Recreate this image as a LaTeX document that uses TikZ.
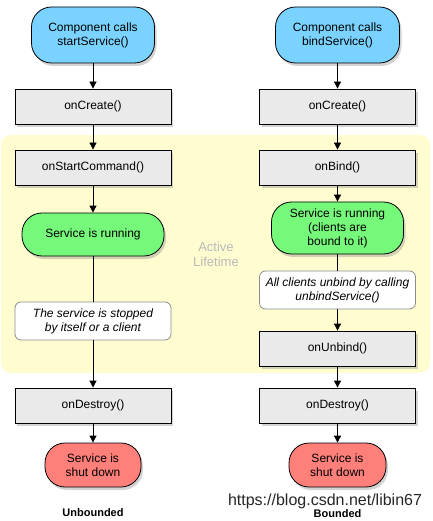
\documentclass[tikz,border=0pt]{standalone}
\usepackage{fontspec}
\setmainfont{Liberation Sans}
\usepackage{xcolor}
\usepackage{tikz}
\usetikzlibrary{arrows.meta, shadows, positioning}
\definecolor{startblue}{RGB}{122,211,255}
\definecolor{rungreen}{RGB}{118,248,122}
\definecolor{downred}{RGB}{255,128,122}
\definecolor{boxgray}{RGB}{234,234,234}
\definecolor{lifeyellow}{RGB}{255,253,208}
\definecolor{lifetext}{RGB}{185,185,185}
\tikzset{
    pillnode/.style = {draw, rectangle, rounded corners=20pt, inner sep = 0em, node distance=0em,
      drop shadow={shadow xshift=2pt, shadow yshift=-3pt, opacity=0.35}},
    boxnode/.style = {draw, rectangle, fill=boxgray, inner sep = 0em, node distance=0em,
      minimum width=156pt, minimum height=35pt,
      drop shadow={shadow xshift=2pt, shadow yshift=-3pt, opacity=0.35}},
    notenode/.style = {draw=black!45, fill=white, rectangle, rounded corners=6pt, inner sep = 0em,
      node distance=0em, minimum width=156pt, minimum height=38pt, font=\fontsize{12}{14}\selectfont\itshape},
    textnode/.style  = {draw=none, fill=none, rectangle, inner sep = 0em, node distance=0em},
    connect/.style = {black, -{Triangle[length=7pt, width=7pt]}},
    every text node part/.style={align=center}
}

\begin{document}
\begin{tikzpicture}[line width=0.8pt, font=\fontsize{12}{14}\selectfont]
    \useasboundingbox (0pt,0pt) rectangle (432pt,-521pt);

    % active lifetime area
    \fill [lifeyellow, rounded corners=10pt] (1pt,-135pt) rectangle (430pt,-373pt);
    \node [name=active, textnode, text=lifetext, font=\fontsize{13}{15}\selectfont]
        at (216pt,-254pt) {Active\\Lifetime};

    % unbounded service
    \node [name=startL, pillnode, fill=startblue, minimum width=123pt, minimum height=56pt]
        at (93pt,-35pt) {Component calls\\startService()};
    \node [name=createL, boxnode, below of = startL, yshift=-71.5pt] {onCreate()};
    \node [name=cmdL, boxnode, below of = createL, yshift=-61pt] {onStartCommand()};
    \node [name=runL, pillnode, fill=rungreen, minimum width=142pt, minimum height=43pt,
        below of = cmdL, yshift=-67pt] {Service is running};
    \node [name=noteL, notenode, below of = runL, yshift=-86.5pt] {The service is stopped\\by itself or a client};
    \node [name=destroyL, boxnode, below of = noteL, yshift=-84.5pt] {onDestroy()};
    \node [name=downL, pillnode, fill=downred, minimum width=96pt, minimum height=44pt,
        below of = destroyL, yshift=-59.5pt] {Service is\\shut down};
    \node [name=unboundL, textnode, font=\fontsize{11}{13}\selectfont\bfseries,
        below of = downL, yshift=-48pt] {Unbounded};

    % bounded service
    \node [name=startR, pillnode, fill=startblue, minimum width=124pt, minimum height=56pt]
        at (337.5pt,-35pt) {Component calls\\bindService()};
    \node [name=createR, boxnode, below of = startR, yshift=-71.5pt] {onCreate()};
    \node [name=bindR, boxnode, below of = createR, yshift=-61pt] {onBind()};
    \node [name=runR, pillnode, fill=rungreen, minimum width=132pt, minimum height=52pt,
        below of = bindR, yshift=-60.5pt] {Service is running\\(clients are\\bound to it)};
    \node [name=noteR, notenode, below of = runR, yshift=-62pt] {All clients unbind by calling\\unbindService()};
    \node [name=unbindR, boxnode, below of = noteR, yshift=-58.5pt] {onUnbind()};
    \node [name=destroyR, boxnode, below of = unbindR, yshift=-57pt] {onDestroy()};
    \node [name=downR, pillnode, fill=downred, minimum width=97pt, minimum height=44pt,
        below of = destroyR, yshift=-59.5pt] {Service is\\shut down};
    \node [name=boundR, textnode, font=\fontsize{11}{13}\selectfont\bfseries,
        below of = downR, yshift=-48.5pt] {Bounded};

    \node [name=mark, textnode, text=black!85, font=\fontsize{16}{18}\selectfont]
        at (325pt,-501pt) {https://blog.csdn.net/libin67};

    \draw [connect] (startL) -- (createL);
    \draw [connect] (createL) -- (cmdL);
    \draw [connect] (cmdL) -- (runL);
    \draw (runL) -- (noteL);
    \draw [connect] (noteL) -- (destroyL);
    \draw [connect] (destroyL) -- (downL);

    \draw [connect] (startR) -- (createR);
    \draw [connect] (createR) -- (bindR);
    \draw [connect] (bindR) -- (runR);
    \draw (runR) -- (noteR);
    \draw [connect] (noteR) -- (unbindR);
    \draw [connect] (unbindR) -- (destroyR);
    \draw [connect] (destroyR) -- (downR);
\end{tikzpicture}
\end{document}
